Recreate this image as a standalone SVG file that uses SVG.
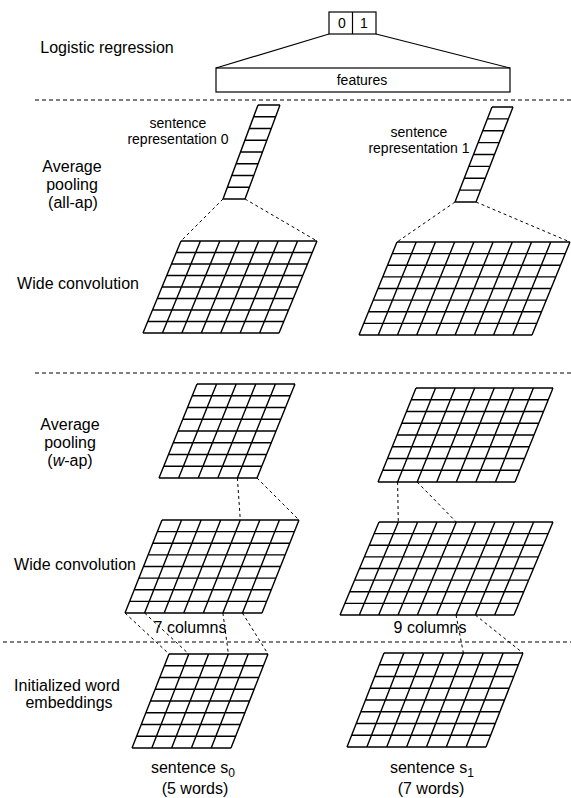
<svg xmlns="http://www.w3.org/2000/svg" xmlns:xlink="http://www.w3.org/1999/xlink" width="571" height="798" viewBox="0 0 571 798">
<style>
  text { font-family: "Liberation Sans", Arial, sans-serif; fill: #000; }
  .lbl { font-size: 16px; text-anchor: middle; }
  .sm { font-size: 14px; text-anchor: middle; }
  .grid { fill: none; stroke: #000; stroke-width: 1.4; vector-effect: non-scaling-stroke; }
  .sep { stroke: #000; stroke-width: 1; stroke-dasharray: 4 3; fill: none; }
  .conn { stroke: #000; stroke-width: 1; stroke-dasharray: 3 3; fill: none; }
  .solid { stroke: #000; stroke-width: 1.2; fill: none; }
</style>
<defs>
  <path id="g1" class="grid" d="M0 0H1M0 1H1M0 2H1M0 3H1M0 4H1M0 5H1M0 6H1M0 7H1M0 8H1M0 0V8M1 0V8"/>
  <path id="g5" class="grid" d="M0 0H5M0 1H5M0 2H5M0 3H5M0 4H5M0 5H5M0 6H5M0 7H5M0 8H5M0 0V8M1 0V8M2 0V8M3 0V8M4 0V8M5 0V8"/>
  <path id="g7" class="grid" d="M0 0H7M0 1H7M0 2H7M0 3H7M0 4H7M0 5H7M0 6H7M0 7H7M0 8H7M0 0V8M1 0V8M2 0V8M3 0V8M4 0V8M5 0V8M6 0V8M7 0V8"/>
  <path id="g9" class="grid" d="M0 0H9M0 1H9M0 2H9M0 3H9M0 4H9M0 5H9M0 6H9M0 7H9M0 8H9M0 0V8M1 0V8M2 0V8M3 0V8M4 0V8M5 0V8M6 0V8M7 0V8M8 0V8M9 0V8"/>
</defs>

<g id="separators">
  <line class="sep" x1="35" y1="100" x2="571" y2="100"/>
  <line class="sep" x1="35" y1="373" x2="571" y2="373"/>
  <line class="sep" x1="3" y1="642" x2="571" y2="642"/>
</g>

<g id="layer-labels">
  <text class="lbl" x="107" y="53" font-size="18">Logistic regression</text>
  <text class="lbl" x="72" y="172">Average</text>
  <text class="lbl" x="72" y="190">pooling</text>
  <text class="lbl" x="73" y="208">(all-ap)</text>
  <text class="lbl" x="78" y="289">Wide convolution</text>
  <text class="lbl" x="70" y="430">Average</text>
  <text class="lbl" x="70" y="448">pooling</text>
  <text class="lbl" x="70" y="466">(<tspan font-style="italic">w</tspan>-ap)</text>
  <text class="lbl" x="75" y="570">Wide convolution</text>
  <text class="lbl" x="67" y="691">Initialized word</text>
  <text class="lbl" x="69" y="708">embeddings</text>
</g>

<g id="output">
  <rect class="solid" x="329" y="12" width="47" height="22"/>
  <line class="solid" x1="352.5" y1="12" x2="352.5" y2="34"/>
  <text class="sm" x="342" y="28">0</text>
  <text class="sm" x="364" y="28">1</text>
</g>

<g id="features">
  <rect class="solid" x="216" y="68" width="294" height="24"/>
  <text class="sm" x="362" y="85">features</text>
</g>

<g id="sentence-rep-0">
  <use xlink:href="#g1" transform="translate(258,105) skewX(-20.42) scale(22,11.75)"/>
  <text class="sm" x="178" y="128">sentence</text>
  <text class="sm" x="178" y="144">representation 0</text>
</g>

<g id="sentence-rep-1">
  <use xlink:href="#g1" transform="translate(492,107) skewX(-21.28) scale(21,11.875)"/>
  <text class="sm" x="419" y="137">sentence</text>
  <text class="sm" x="419" y="153">representation 1</text>
</g>

<g id="conv1-left">
  <use xlink:href="#g7" transform="translate(181,241) skewX(-22.44) scale(19.4286,11.5)"/>
</g>
<g id="conv1-right">
  <use xlink:href="#g9" transform="translate(397,242) skewX(-22.22) scale(19.222,11.625)"/>
</g>

<g id="wap-left">
  <use xlink:href="#g5" transform="translate(197,384) skewX(-22.01) scale(19.6,11.75)"/>
</g>
<g id="wap-right">
  <use xlink:href="#g7" transform="translate(416,388) skewX(-22.01) scale(19.571,11.75)"/>
</g>

<g id="conv2-left">
  <use xlink:href="#g7" transform="translate(162,520) skewX(-21.69) scale(19.571,11.625)"/>
  <text class="lbl" x="190" y="633">7 columns</text>
</g>
<g id="conv2-right">
  <use xlink:href="#g9" transform="translate(379,522) skewX(-22.75) scale(19.333,11.625)"/>
  <text class="lbl" x="430" y="633">9 columns</text>
</g>

<g id="emb-left">
  <use xlink:href="#g5" transform="translate(169,654) skewX(-21.48) scale(19.8,11.75)"/>
  <text class="lbl" x="193" y="773">sentence s<tspan font-size="12" dy="4">0</tspan></text>
  <text class="lbl" x="195" y="794">(5 words)</text>
</g>
<g id="emb-right">
  <use xlink:href="#g7" transform="translate(384,653) skewX(-21.48) scale(19.857,11.75)"/>
  <text class="lbl" x="432" y="773">sentence s<tspan font-size="12" dy="4">1</tspan></text>
  <text class="lbl" x="431" y="794">(7 words)</text>
</g>

<g id="connectors">
  <line class="solid" x1="329" y1="34" x2="216" y2="68"/>
  <line class="solid" x1="376" y1="34" x2="510" y2="68"/>
  <line class="conn" x1="223" y1="199" x2="181" y2="241"/>
  <line class="conn" x1="245" y1="199" x2="317" y2="241"/>
  <line class="conn" x1="455" y1="202" x2="397" y2="242"/>
  <line class="conn" x1="476" y1="202" x2="570" y2="242"/>
  <line class="conn" x1="237.4" y1="478" x2="240.3" y2="520"/>
  <line class="conn" x1="257" y1="478" x2="299" y2="520"/>
  <line class="conn" x1="397.6" y1="482" x2="398.3" y2="522"/>
  <line class="conn" x1="417.1" y1="482" x2="456.3" y2="522"/>
  <line class="conn" x1="125" y1="613" x2="169" y2="654"/>
  <line class="conn" x1="144.6" y1="613" x2="188.8" y2="654"/>
  <line class="conn" x1="222.9" y1="613" x2="228.4" y2="654"/>
  <line class="conn" x1="242.4" y1="613" x2="268" y2="654"/>
  <line class="conn" x1="456" y1="615" x2="463.4" y2="653"/>
  <line class="conn" x1="475.3" y1="615" x2="523" y2="653"/>
</g>
</svg>
